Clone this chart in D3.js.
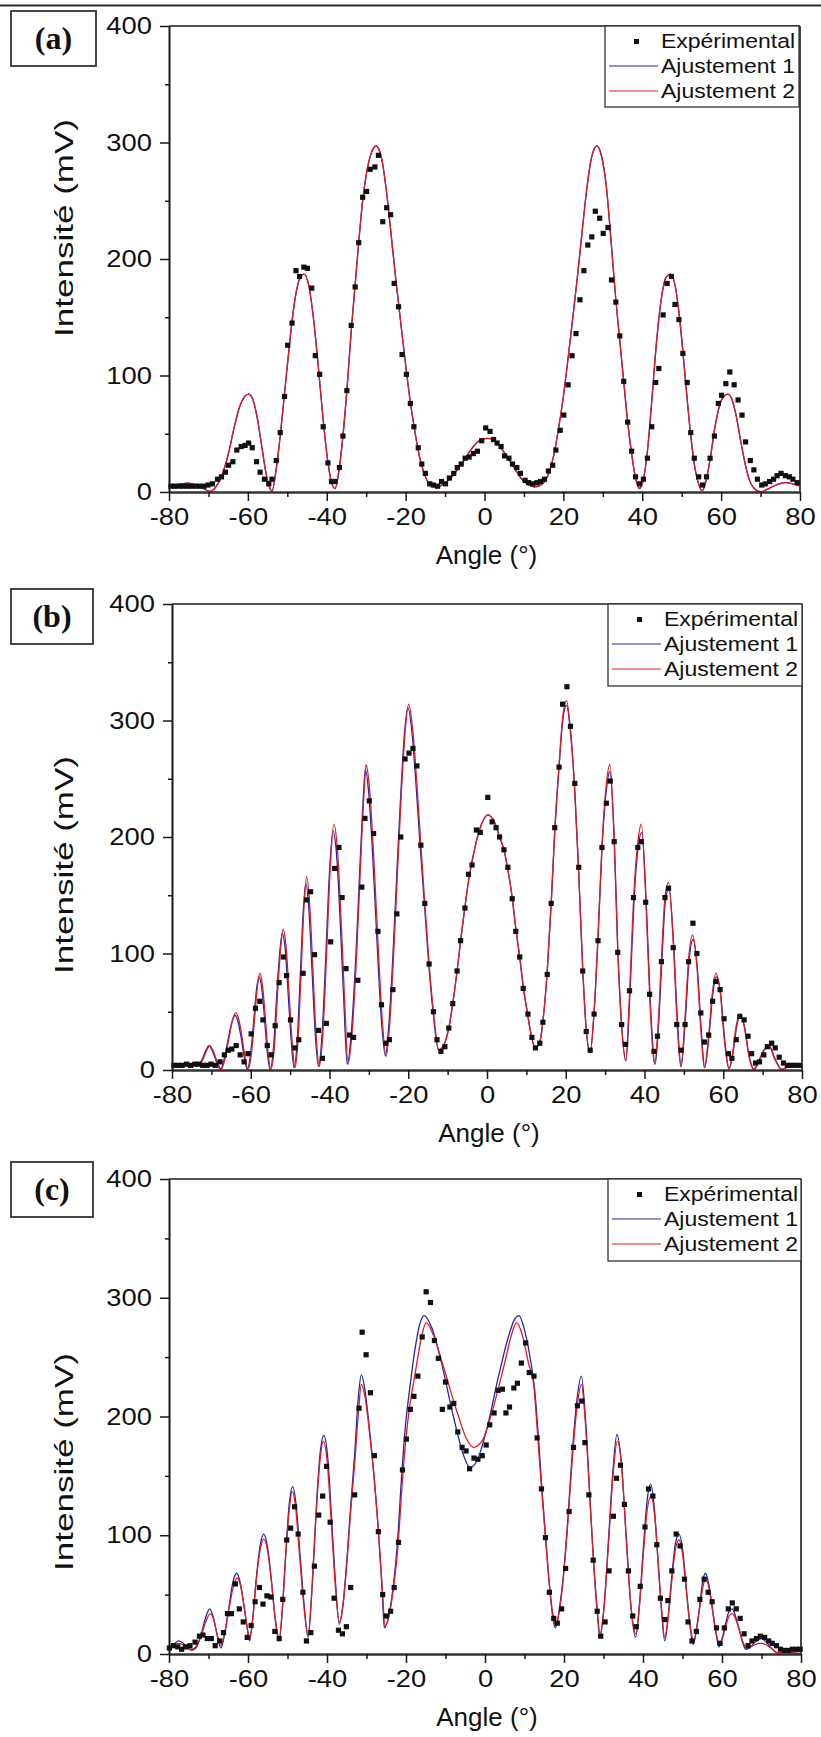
<!DOCTYPE html>
<html><head><meta charset="utf-8">
<script src="https://cdn.jsdelivr.net/npm/d3@7"></script>
<style>body{margin:0;background:#fff}svg{display:block}</style>
</head><body>
<svg id="chart" width="821" height="1737"></svg>
<script>
// ---------- tick labels / categories ----------
const xTicks = [-80,-60,-40,-20,0,20,40,60,80];
const xMinorTicks = [-70,-50,-30,-10,10,30,50,70];
const yTicks = [0,100,200,300,400];
const yMinorTicks = [50,150,250,350];
const legendLabels = ["Expérimental","Ajustement 1","Ajustement 2"];
const panelLabels = ["(a)","(b)","(c)"];
const xTitle = "Angle (°)";
const yTitle = "Intensité (mV)";

// ---------- panel (a) ----------
const expA = [[-79.5,5],[-78.5,5],[-77.4,5],[-76.4,5],[-75.3,5],[-74.3,5],[-73.2,5],[-72.2,5],[-71.1,5],[-70.1,6],[-69.0,7],[-67.7,11],[-66.7,13],[-65.7,17],[-64.9,23],[-63.8,26],[-62.8,36],[-61.7,39],[-60.7,40],[-59.8,42],[-58.9,38],[-57.8,26],[-56.9,17],[-55.8,11],[-54.7,7],[-53.9,11],[-52.8,27],[-51.8,51],[-50.7,82],[-49.9,126],[-48.8,145],[-47.8,190],[-46.9,185],[-45.8,193],[-44.9,192],[-43.8,175],[-42.9,117],[-41.8,101],[-40.9,56],[-39.7,25],[-38.8,9],[-37.9,9],[-36.8,21],[-35.9,48],[-34.9,87],[-33.8,143],[-32.8,176],[-31.9,214],[-30.9,253],[-29.9,258],[-29.0,277],[-27.8,279],[-26.9,289],[-25.8,232],[-24.8,244],[-23.8,238],[-22.9,179],[-21.8,159],[-20.9,118],[-19.8,101],[-18.8,76],[-17.9,56],[-16.8,38],[-15.9,24],[-15.0,16],[-13.9,7],[-13.0,6],[-11.9,5],[-10.9,9],[-9.9,7],[-8.9,12],[-7.8,16],[-6.9,21],[-5.9,24],[-4.9,29],[-3.9,30],[-2.8,33],[-1.8,35],[-0.7,44],[0.3,55],[1.4,52],[2.3,45],[3.2,42],[4.2,39],[5.1,31],[6.2,29],[7.1,24],[8.2,21],[9.1,16],[10.3,10],[11.2,8],[12.2,7],[13.3,8],[14.2,9],[15.2,11],[16.2,18],[17.3,23],[18.1,36],[19.2,53],[20.1,66],[21.2,92],[22.2,117],[23.2,136],[24.2,165],[25.2,190],[26.2,212],[27.2,219],[28.1,241],[29.2,235],[30.1,222],[31.3,227],[32.2,182],[33.3,163],[34.3,134],[35.3,95],[36.3,60],[37.3,35],[38.3,13],[39.3,7],[40.3,11],[41.3,29],[42.4,56],[43.4,94],[44.2,106],[45.3,152],[46.3,179],[47.4,185],[48.3,161],[49.3,148],[50.3,119],[51.4,94],[52.3,51],[53.2,29],[54.3,13],[55.3,6],[56.3,13],[57.2,29],[58.3,48],[59.3,76],[60.1,83],[61.2,93],[62.2,103],[63.3,92],[64.3,79],[65.3,66],[66.2,43],[67.4,27],[68.3,19],[69.2,11],[70.3,6],[71.2,7],[72.3,9],[73.3,11],[74.2,14],[75.2,16],[76.3,14],[77.3,13],[78.2,11],[79.3,8]];
// both fits coincide in (a)
const fit1A = [[-80,5],[-77.5,6.5],[-75.3,7.7],[-73,6],[-71,2.5],[-69.6,0.5],[-68.2,4],[-66.5,15],[-65,32],[-63.5,55],[-62,74],[-60.8,82],[-59.8,84],[-58.8,80],[-57.7,65],[-56.6,42],[-55.5,18],[-54.6,5],[-53.9,0.5],[-52.8,20],[-51.8,48],[-50.7,85],[-49.5,125],[-48.3,160],[-47,182],[-45.8,187],[-44.6,178],[-43.4,150],[-42.2,110],[-41,65],[-39.8,28],[-38.7,7],[-37.9,3],[-36.8,21],[-35.9,48],[-34.9,87],[-33.8,138],[-32.8,178],[-31.9,214],[-30.9,250],[-29.9,274],[-28.8,290],[-27.5,297],[-26.2,288],[-25,262],[-23.8,225],[-22.6,186],[-21.4,150],[-20.2,115],[-19,82],[-17.8,55],[-16.6,32],[-15.3,16],[-14,7],[-12.6,4.5],[-11,5.5],[-9.5,9],[-8,14],[-6.5,21],[-5,28],[-3.5,36],[-2,42],[-0.5,45.5],[0.8,46],[2.2,45],[3.7,40],[5.2,33],[6.7,25],[8.2,17],[9.7,10],[11.2,6],[12.6,4.5],[14,5.5],[15.3,9],[16.5,18],[17.6,32],[18.8,55],[20,82],[21.2,115],[22.4,150],[23.6,186],[24.8,225],[26,262],[27.2,288],[28.5,297],[29.7,288],[30.9,262],[32.1,215],[33.3,165],[34.3,130],[35.3,95],[36.3,60],[37.3,33],[38.3,12],[39.3,3],[40.3,11],[41.4,38],[42.5,82],[43.6,128],[44.8,165],[46,184],[47.2,187],[48.4,176],[49.6,145],[50.8,102],[52,58],[53.2,24],[54.3,7],[55.2,1],[56.2,10],[57.3,30],[58.4,55],[59.5,73],[60.6,82],[61.7,84],[62.8,79],[63.9,64],[65,43],[66.1,24],[67.2,10],[68.4,3],[70,0],[71.5,2],[73,4.5],[74.7,7],[76.4,8],[78.2,7],[80,5]];
const fit2A = fit1A.map(d => d.slice());

// ---------- panel (b) ----------
const expB = [[-79.5,4],[-78.4,4],[-77.4,4],[-76.3,5],[-75.3,4],[-74.2,5],[-73.2,5],[-72.2,4],[-71.1,4],[-70.1,5],[-69.0,4],[-67.8,7],[-66.7,13],[-65.7,17],[-64.8,18],[-63.7,21],[-62.7,13],[-61.7,7],[-60.7,14],[-59.9,31],[-58.8,53],[-57.7,59],[-56.9,43],[-55.8,21],[-54.8,13],[-53.8,38],[-52.8,75],[-51.7,97],[-50.9,81],[-49.9,43],[-48.8,19],[-47.8,26],[-46.7,83],[-45.8,146],[-44.8,153],[-43.8,99],[-42.8,34],[-41.8,10],[-40.8,40],[-39.7,110],[-38.7,173],[-37.6,191],[-36.8,148],[-35.8,87],[-34.9,30],[-33.9,28],[-32.8,77],[-31.8,157],[-31.0,216],[-29.9,231],[-28.8,203],[-27.7,119],[-26.8,56],[-25.7,23],[-24.8,26],[-23.9,69],[-22.9,134],[-21.9,200],[-20.8,267],[-19.8,272],[-18.8,276],[-17.8,261],[-16.8,193],[-15.8,143],[-14.7,91],[-13.6,50],[-12.7,26],[-11.7,16],[-10.7,20],[-9.7,36],[-8.7,57],[-7.6,85],[-6.7,111],[-5.6,139],[-4.7,168],[-3.8,176],[-2.7,206],[-1.7,204],[0.2,234],[1.3,213],[2.3,208],[3.2,200],[4.3,189],[5.3,174],[6.4,147],[7.3,119],[8.3,97],[9.2,70],[10.4,48],[11.4,28],[12.3,19],[13.4,23],[14.2,41],[15.3,82],[16.3,143],[17.2,208],[18.3,260],[19.2,314],[20.3,329],[21.2,295],[22.3,246],[23.3,174],[24.3,85],[25.2,33],[26.2,17],[27.2,48],[28.2,111],[29.2,191],[30.3,229],[31.3,248],[32.3,196],[33.2,101],[34.2,39],[35.2,22],[36.2,68],[37.2,148],[38.3,191],[39.2,196],[40.3,144],[41.3,65],[42.4,16],[43.3,29],[44.3,93],[45.2,148],[46.1,156],[47.3,105],[48.2,39],[49.3,17],[50.3,39],[51.2,93],[52.3,126],[53.3,100],[54.3,49],[55.2,24],[56.3,30],[57.3,59],[58.1,76],[59.2,69],[60.2,44],[61.3,14],[62.2,10],[63.3,26],[64.2,46],[65.3,43],[66.3,29],[67.2,14],[68.2,6],[69.2,7],[70.3,13],[71.2,20],[72.3,23],[73.2,19],[74.2,11],[75.3,6],[76.3,4],[77.3,4],[78.3,4],[79.4,4]];
const fit1B = [[-80,4],[-76,4],[-73.7,4],[-72.5,8],[-71.5,16],[-70.6,21],[-69.7,16],[-68.7,7],[-67.7,0.5],[-66.7,10],[-65.7,27],[-64.8,41],[-64.0,47],[-63.2,41],[-62.4,27],[-61.6,10],[-60.9,0.5],[-60.0,15],[-59.2,44],[-58.5,70],[-57.9,80],[-57.2,70],[-56.5,44],[-55.8,15],[-55.1,0.5],[-54.2,20],[-53.4,64],[-52.6,102],[-52.0,117],[-51.2,102],[-50.4,60],[-49.6,20],[-49.0,2],[-48.2,25],[-47.4,83],[-46.6,140],[-46.0,160],[-45.2,136],[-44.4,83],[-43.6,30],[-42.8,3],[-41.9,30],[-41.0,93],[-40.0,170],[-39.1,205],[-38.1,180],[-37.2,122],[-36.3,54],[-35.5,5],[-34.4,35],[-33.3,98],[-32.2,180],[-31.4,235],[-30.9,258],[-30.0,236],[-29.0,182],[-27.9,108],[-26.9,47],[-25.8,12],[-24.9,40],[-23.9,98],[-23.0,162],[-22.0,230],[-21.0,287],[-20.1,311],[-19.0,288],[-18.0,244],[-17.0,193],[-15.9,143],[-14.8,91],[-13.7,50],[-12.3,17],[-10.9,22],[-9.7,36],[-8.7,57],[-7.6,85],[-6.7,111],[-5.6,140],[-4.7,162],[-3,192],[-1.5,210],[0.2,219],[2,212],[3.2,200],[4.3,189],[5.3,172],[6.4,148],[7.3,122],[8.3,97],[9.2,72],[10.4,46],[11.4,27],[12.3,19],[13.4,24],[14.3,45],[15.3,85],[16.3,143],[17.2,204],[18.3,260],[19.3,302],[20.2,313],[21.2,290],[22.3,238],[23.3,168],[24.3,87],[25.2,35],[26.2,15],[27.2,50],[28.2,114],[29.2,190],[30.3,240],[31.2,256],[32.3,198],[33.2,104],[34.2,38],[35.3,8],[36.3,65],[37.3,143],[38.4,192],[39.3,204],[40.4,147],[41.4,64],[42.7,5],[43.5,35],[44.4,93],[45.3,145],[46.2,156],[47.4,108],[48.4,40],[49.3,3],[50.4,45],[51.3,93],[52.3,112],[53.4,88],[54.4,35],[55.3,2],[56.4,30],[57.3,64],[58.2,80],[59.3,66],[60.4,25],[61.5,1],[62.5,15],[63.4,37],[64.4,47],[65.4,37],[66.6,12],[67.8,0.5],[69.1,8],[70.4,17],[71.7,21],[73.1,10],[74.9,0.5],[76.6,3],[80,4]];
const fit2B = [[-80,4],[-76,4],[-73.5,4],[-72.3,8],[-71.3,16],[-70.4,21],[-69.5,16],[-68.5,7],[-67.5,0.5],[-66.5,10],[-65.5,28],[-64.6,43],[-63.8,49],[-63,43],[-62.2,28],[-61.4,10],[-60.7,0.5],[-59.8,15],[-59,45],[-58.3,72],[-57.7,83],[-57,72],[-56.3,45],[-55.6,15],[-54.9,0.5],[-54,20],[-53.2,65],[-52.4,105],[-51.8,121],[-51,105],[-50.2,62],[-49.4,20],[-48.8,2],[-48,25],[-47.2,85],[-46.4,145],[-45.8,166],[-45,140],[-44.2,85],[-43.4,30],[-42.6,3],[-41.7,30],[-40.8,95],[-39.8,175],[-38.9,211],[-37.9,185],[-37,125],[-36.1,55],[-35.3,5],[-34.2,35],[-33.1,100],[-32,185],[-31.2,240],[-30.7,262],[-29.8,240],[-28.8,185],[-27.7,110],[-26.7,48],[-25.6,12],[-24.7,40],[-23.7,100],[-22.8,165],[-21.8,235],[-20.8,290],[-19.9,314],[-18.8,290],[-17.8,245],[-16.8,193],[-15.8,143],[-14.7,91],[-13.6,50],[-12.2,17],[-10.9,22],[-9.7,36],[-8.7,57],[-7.6,85],[-6.7,111],[-5.6,140],[-4.7,162],[-3,192],[-1.5,210],[0.2,219],[2,212],[3.2,200],[4.3,189],[5.3,172],[6.4,148],[7.3,122],[8.3,97],[9.2,72],[10.4,46],[11.4,27],[12.3,19],[13.4,24],[14.3,45],[15.3,85],[16.3,143],[17.2,205],[18.3,262],[19.3,305],[20.2,317],[21.2,292],[22.3,240],[23.3,170],[24.3,88],[25.2,35],[26.2,15],[27.2,50],[28.2,115],[29.2,192],[30.3,245],[31.2,262],[32.3,200],[33.2,105],[34.2,38],[35.2,8],[36.2,65],[37.2,145],[38.3,195],[39.2,211],[40.3,150],[41.3,65],[42.6,5],[43.4,35],[44.3,95],[45.2,148],[46.1,161],[47.3,110],[48.3,40],[49.2,3],[50.3,45],[51.2,95],[52.2,116],[53.3,90],[54.3,35],[55.2,2],[56.3,30],[57.2,65],[58.1,83],[59.2,68],[60.3,25],[61.4,1],[62.4,15],[63.3,38],[64.3,48],[65.3,38],[66.5,12],[67.7,0.5],[69,8],[70.3,17],[71.6,21],[73,10],[74.8,0.5],[76.5,3],[80,4]];

// ---------- panel (c) ----------
const expC = [[-79.9,5],[-78.9,7],[-77.8,6],[-76.8,4],[-75.8,6],[-74.7,7],[-73.4,10],[-72.3,15],[-71.4,16],[-70.3,13],[-69.3,13],[-68.3,7],[-67.2,11],[-66.2,18],[-65.2,34],[-64.2,34],[-63.2,59],[-62.2,38],[-61.2,27],[-60.2,14],[-59.2,24],[-58.2,44],[-57.1,56],[-56.2,42],[-55.2,49],[-54.2,48],[-53.2,19],[-52.1,13],[-51.2,46],[-50.2,96],[-49.2,106],[-48.2,124],[-47.3,101],[-46.1,52],[-45.2,11],[-44.1,18],[-43.2,74],[-42.1,117],[-41.1,133],[-40.1,158],[-39.2,111],[-38.2,47],[-37.1,20],[-36.1,17],[-35.1,23],[-34.0,56],[-33.0,134],[-31.9,207],[-31.1,271],[-30.1,252],[-29.0,220],[-28.0,167],[-27.0,103],[-25.9,50],[-25.0,32],[-23.9,36],[-23.0,56],[-21.9,94],[-20.9,155],[-19.9,181],[-18.9,206],[-18.0,217],[-17.0,234],[-15.9,267],[-14.9,305],[-13.8,296],[-12.8,264],[-11.8,249],[-10.8,206],[-10.0,229],[-8.9,208],[-7.9,211],[-6.9,187],[-5.8,174],[-4.8,171],[-3.9,156],[-2.8,165],[-1.8,164],[-0.7,167],[0.3,176],[1.2,193],[2.3,203],[3.3,222],[4.4,223],[5.3,203],[6.2,208],[7.3,224],[8.2,228],[9.2,245],[10.3,262],[11.2,237],[12.4,234],[13.2,182],[14.3,139],[15.3,98],[16.3,52],[17.4,30],[18.3,26],[19.4,38],[20.4,72],[21.3,120],[22.4,174],[23.4,209],[24.5,213],[25.3,178],[26.3,134],[27.4,79],[28.4,36],[29.3,15],[30.4,27],[31.4,70],[32.5,116],[33.3,148],[34.3,159],[35.3,126],[36.3,70],[37.4,32],[38.3,23],[39.3,57],[40.5,107],[41.4,139],[42.5,133],[43.5,92],[44.4,47],[45.5,29],[46.3,45],[47.3,70],[48.4,101],[49.4,91],[50.5,63],[51.4,27],[52.4,11],[53.5,19],[54.4,46],[55.5,63],[56.5,52],[57.5,44],[58.6,22],[59.5,9],[60.6,22],[61.6,38],[62.6,43],[63.6,38],[64.6,30],[65.6,17],[66.6,7],[67.6,11],[68.7,13],[69.7,15],[70.8,14],[71.8,11],[72.7,9],[73.8,7],[74.8,4],[75.9,3],[76.9,3],[77.8,4],[78.9,4],[79.8,4]];
const fit1C = [[-80,3],[-79,7],[-77.6,11],[-76.4,9],[-75.2,5],[-74.3,3],[-73,6],[-71.9,16],[-70.7,31],[-69.7,38],[-68.7,30],[-67.8,16],[-66.9,5],[-65.9,17],[-64.8,40],[-63.8,61],[-62.8,68],[-61.9,59],[-61,40],[-60.2,22],[-59.6,11],[-58.8,30],[-57.9,64],[-56.9,92],[-56,101],[-55.1,91],[-54.1,63],[-53.1,29],[-52.1,11],[-51.3,38],[-50.5,82],[-49.6,125],[-48.7,141],[-47.8,125],[-46.9,87],[-45.8,42],[-44.8,14],[-43.8,55],[-42.8,118],[-41.8,167],[-40.8,184],[-39.8,165],[-38.8,112],[-37.8,58],[-36.9,25],[-36,40],[-35,78],[-34,125],[-33,168],[-32.1,215],[-31.3,235],[-30.3,220],[-29.2,188],[-28.1,150],[-27,104],[-26,52],[-25.5,22],[-24.5,30],[-23.3,55],[-22.2,92],[-21.2,145],[-20.2,190],[-19,225],[-17.8,255],[-16.5,278],[-15.4,285],[-13.5,275],[-11,245],[-8,200],[-5.5,168],[-3.8,157],[-2,163],[0.5,190],[3.5,235],[6,268],[7.5,282],[8.6,285],[10,273],[11.5,248],[12.6,222],[13.4,188],[14.4,140],[15.4,96],[16.4,55],[17.2,30],[17.8,22],[19,42],[20,72],[21,115],[22,165],[23.2,212],[24.4,234],[25.4,200],[26.4,142],[27.4,82],[28.4,36],[29.1,14],[30.2,42],[31.3,98],[32.4,155],[33.4,185],[34.5,162],[35.7,102],[36.9,42],[38.1,14],[39.1,42],[40.1,90],[41,128],[41.9,143],[42.9,122],[43.8,78],[44.7,36],[45.5,11],[46.4,32],[47.3,66],[48.2,93],[49.1,101],[50.1,86],[51,54],[51.9,24],[52.7,8],[53.6,22],[54.5,45],[55.1,61],[55.8,68],[56.7,58],[57.6,37],[58.5,17],[59.2,6],[60.1,14],[61,27],[61.8,36],[62.6,38],[63.5,31],[64.4,20],[65.2,10],[66,4],[67.2,6],[68.4,10],[69.2,12],[69.9,13],[71.2,10],[72.5,5],[73.9,1],[75.5,1],[78,1],[80,0.5]];
const fit2C = [[-80,3],[-79,6],[-77.8,9],[-76.6,8],[-75.4,5],[-74.3,4],[-73,7],[-71.9,15],[-70.6,28],[-69.5,34],[-68.6,28],[-67.8,16],[-66.9,7],[-65.9,18],[-64.8,38],[-63.7,57],[-62.7,64],[-61.8,56],[-60.9,38],[-60.2,22],[-59.6,13],[-58.8,30],[-57.9,62],[-56.9,88],[-56,97],[-55.1,88],[-54.1,62],[-53.1,30],[-52.1,13],[-51.3,38],[-50.5,80],[-49.6,120],[-48.8,137],[-47.9,122],[-47,85],[-45.9,42],[-44.8,16],[-43.8,55],[-42.8,115],[-41.8,162],[-40.9,179],[-39.9,160],[-38.9,110],[-37.9,58],[-36.9,27],[-36,40],[-35,75],[-34,120],[-33,160],[-32,205],[-31.3,227],[-30.3,215],[-29.2,185],[-28.1,150],[-27,105],[-26,55],[-25.3,24],[-24.3,32],[-23.2,55],[-22,92],[-21,142],[-20,182],[-19,210],[-18,230],[-17,250],[-16,268],[-14.9,279],[-13,268],[-10.7,244],[-7.1,204],[-4.5,180],[-2.9,174],[-0.8,179],[1.8,204],[4.9,244],[7,272],[8,279],[9.5,268],[11,245],[12.4,225],[13.2,190],[14.3,140],[15.3,98],[16.3,58],[17.2,33],[17.9,24],[19,40],[20,70],[21,112],[22,160],[23.2,205],[24.4,227],[25.4,195],[26.4,140],[27.4,82],[28.4,38],[29.1,17],[30.2,42],[31.3,95],[32.4,150],[33.5,179],[34.6,158],[35.7,100],[36.9,42],[38.2,17],[39.1,40],[40.1,85],[41.1,122],[42,133],[43,115],[43.9,75],[44.7,38],[45.5,14],[46.4,32],[47.3,62],[48.2,88],[49.1,96],[50.1,82],[51,52],[51.9,25],[52.8,11],[53.6,22],[54.5,42],[55.2,57],[55.9,63],[56.8,54],[57.7,35],[58.5,18],[59.3,9],[60.2,14],[61.1,25],[61.8,32],[62.6,34],[63.5,29],[64.4,20],[65.2,11],[66.1,6],[67.2,6],[68.5,8],[69.4,9],[70.2,9],[71.5,7],[72.8,4],[74.1,1],[76,1.5],[78,1],[80,0]];

// ---------- layout (not data) ----------
const panels = [
  {label:panelLabels[0], exp:expA, fit1:fit1A, fit2:fit2A, x0:169, x1:800, y0:26, y1:492,
   box:[11,11,85,55], leg:[605,26,194,81], yTitleY:228},
  {label:panelLabels[1], exp:expB, fit1:fit1B, fit2:fit2B, x0:172, x1:802, y0:604, y1:1070,
   box:[11,589,82,55], leg:[608,604,194,82], yTitleY:865},
  {label:panelLabels[2], exp:expC, fit1:fit1C, fit2:fit2C, x0:169, x1:801, y0:1179, y1:1654,
   box:[11,1162,82,55], leg:[608,1179,193,82], yTitleY:1462}
];
const BLUE = "#2626a8", RED = "#e01b24", INK = "#1a1a1a";
const FONT = "'Liberation Sans', Arial, Helvetica, sans-serif";
const fmt = d => String(d);   // plain hyphen-minus like the original

const svg = d3.select("#chart");
svg.append("rect").attr("width",821).attr("height",1737).attr("fill","#fff");
// top rule
svg.append("line").attr("x1",0).attr("x2",821).attr("y1",5.5).attr("y2",5.5)
  .attr("stroke","#2a2a2a").attr("stroke-width",2.2);

panels.forEach(p => {
  const g = svg.append("g");
  const x = d3.scaleLinear().domain([-80,80]).range([p.x0,p.x1]);
  const y = d3.scaleLinear().domain([0,400]).range([p.y1,p.y0]);

  // frame top/right
  g.append("line").attr("x1",p.x0).attr("x2",p.x1).attr("y1",p.y0).attr("y2",p.y0)
    .attr("stroke",INK).attr("stroke-width",1.4);
  g.append("line").attr("x1",p.x1).attr("x2",p.x1).attr("y1",p.y0).attr("y2",p.y1)
    .attr("stroke",INK).attr("stroke-width",1.6);

  // curves
  const line = d3.line().x(d=>x(d[0])).y(d=>y(d[1])).curve(d3.curveMonotoneX);
  g.append("path").datum(p.fit1).attr("d",line).attr("fill","none")
    .attr("stroke",BLUE).attr("stroke-width",1.3);
  g.append("path").datum(p.fit2).attr("d",line).attr("fill","none")
    .attr("stroke",RED).attr("stroke-width",1.3);

  // experimental squares
  const s = 5.2;
  g.append("g").selectAll("rect").data(p.exp).join("rect")
    .attr("x",d=>x(d[0])-s/2).attr("y",d=>y(d[1])-s/2)
    .attr("width",s).attr("height",s).attr("fill","#111");

  // axes
  const ax = g.append("g").attr("transform",`translate(0,${p.y1})`)
    .call(d3.axisBottom(x).tickValues(xTicks).tickFormat(fmt).tickSize(9).tickSizeOuter(0).tickPadding(7));
  g.append("g").attr("transform",`translate(0,${p.y1})`)
    .call(d3.axisBottom(x).tickValues(xMinorTicks).tickSize(5).tickSizeOuter(0).tickFormat(""))
    .select(".domain").remove();
  const ay = g.append("g").attr("transform",`translate(${p.x0},0)`)
    .call(d3.axisLeft(y).tickValues(yTicks).tickFormat(fmt).tickSize(9).tickSizeOuter(0).tickPadding(4));
  g.append("g").attr("transform",`translate(${p.x0},0)`)
    .call(d3.axisLeft(y).tickValues(yMinorTicks).tickSize(4).tickSizeOuter(0).tickFormat(""))
    .select(".domain").remove();
  g.selectAll(".tick line").attr("stroke",INK).attr("stroke-width",1.5);
  ax.select(".domain").attr("stroke","#333").attr("stroke-width",2.6);
  ay.select(".domain").attr("stroke",INK).attr("stroke-width",2);
  [ax,ay].forEach(a => a.selectAll("text")
     .attr("font-family",FONT).attr("font-size",24).attr("fill","#111"));
  ax.selectAll("text").attr("transform","scale(1.14,1)");
  ay.selectAll("text").attr("transform","scale(1.14,1)").attr("x",-15);

  // titles
  g.append("text").attr("x",(p.x0+p.x1)/2+2).attr("y",p.y1+72).attr("text-anchor","middle")
    .attr("font-family",FONT).attr("font-size",26).attr("fill","#111").text(xTitle);
  g.append("text").attr("transform",`translate(73,${p.yTitleY}) rotate(-90)`)
    .attr("text-anchor","middle").attr("font-family",FONT).attr("font-size",25)
    .attr("textLength",218).attr("lengthAdjust","spacingAndGlyphs")
    .attr("fill","#111").text(yTitle);

  // panel label box
  g.append("rect").attr("x",p.box[0]).attr("y",p.box[1]).attr("width",p.box[2]).attr("height",p.box[3])
    .attr("fill","#fff").attr("stroke","#333").attr("stroke-width",1.8);
  g.append("text").attr("x",p.box[0]+p.box[2]/2).attr("y",p.box[1]+p.box[3]/2+10)
    .attr("text-anchor","middle").attr("font-family","'Liberation Serif','Times New Roman',serif")
    .attr("font-weight","bold").attr("font-size",32).attr("fill","#111").text(p.label);

  // legend
  const [lx,ly,lw,lh] = p.leg;
  g.append("rect").attr("x",lx).attr("y",ly).attr("width",lw).attr("height",lh)
    .attr("fill","#fff").attr("stroke","#333").attr("stroke-width",1.3);
  const rows = [ly+22, ly+47, ly+72];
  legendLabels.forEach((t,i) => {
    g.append("text").attr("x",lx+56).attr("y",rows[i]).attr("font-family",FONT)
      .attr("font-size",20).attr("fill","#111").attr("textLength",134)
      .attr("lengthAdjust","spacingAndGlyphs").text(t);
  });
  g.append("rect").attr("x",lx+29).attr("y",rows[0]-9).attr("width",5).attr("height",5).attr("fill","#111");
  g.append("line").attr("x1",lx+4).attr("x2",lx+53).attr("y1",rows[1]-7).attr("y2",rows[1]-7)
    .attr("stroke",BLUE).attr("stroke-width",1.2);
  g.append("line").attr("x1",lx+4).attr("x2",lx+53).attr("y1",rows[2]-7).attr("y2",rows[2]-7)
    .attr("stroke",RED).attr("stroke-width",1.2);
});
</script>
</body></html>
